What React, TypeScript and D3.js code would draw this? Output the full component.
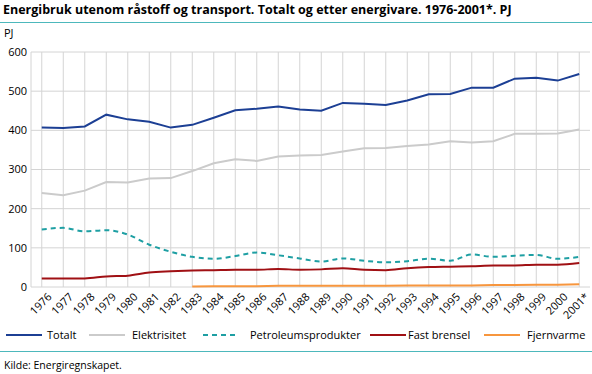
import * as d3 from 'd3';

const years = [
  '1976', '1977', '1978', '1979', '1980', '1981', '1982', '1983', '1984', '1985', '1986', '1987', '1988',
  '1989', '1990', '1991', '1992', '1993', '1994', '1995', '1996', '1997', '1998', '1999', '2000', '2001*',
];

const totalt = [407, 406, 410, 440, 428, 422, 407, 414, 432, 451, 455, 461, 453, 450, 470, 468, 465, 476, 492, 493, 509, 509, 532, 534, 527, 544];
const elektrisitet = [240, 234, 246, 268, 267, 277, 278, 296, 316, 326, 322, 333, 336, 337, 346, 354, 355, 360, 364, 372, 369, 372, 391, 391, 392, 402];
const petroleum = [147, 151, 142, 145, 134, 108, 90, 77, 72, 79, 88, 81, 73, 65, 73, 67, 63, 66, 72, 67, 83, 77, 80, 82, 72, 77];
const fastBrensel = [22, 22, 22, 27, 29, 37, 40, 42, 43, 44, 44, 46, 44, 45, 48, 44, 43, 48, 51, 52, 53, 55, 55, 57, 57, 61];
const fjernvarme: (number | null)[] = [null, null, null, null, null, null, null, 1, 2, 2, 2, 3, 3, 3, 3, 3, 3, 4, 4, 4, 4, 5, 5, 6, 6, 7];

const yTicks = [0, 100, 200, 300, 400, 500, 600];

const series = [
  { name: 'Totalt', values: totalt, color: '#1c3f94', dash: '', curve: d3.curveLinear },
  { name: 'Elektrisitet', values: elektrisitet, color: '#cbcbcb', dash: '', curve: d3.curveLinear },
  { name: 'Petroleumsprodukter', values: petroleum, color: '#1e9fa3', dash: '5,4', curve: d3.curveMonotoneX },
  { name: 'Fast brensel', values: fastBrensel, color: '#a01014', dash: '', curve: d3.curveMonotoneX },
  { name: 'Fjernvarme', values: fjernvarme, color: '#f7963e', dash: '', curve: d3.curveLinear },
];

// legend: linjestart og tekststart
const legendPos = [
  { x: 6, tx: 47 },
  { x: 89, tx: 132 },
  { x: 203, tx: 250 },
  { x: 370, tx: 408 },
  { x: 484, tx: 527 },
];

const W = 592;
const H = 374;
const font = "'Open Sans', sans-serif";

export default function App() {
  const margin = { left: 31, right: 2, top: 52, bottom: 87 };
  const x = d3.scaleBand().domain(years).range([margin.left, W - margin.right]);
  const y = d3.scaleLinear().domain([0, 600]).range([H - margin.bottom, margin.top]);
  const cx = (d: string) => x(d)! + x.bandwidth() / 2;

  return (
    <svg width={W} height={H} style={{ position: 'absolute', left: 0, top: 0, background: '#fff' }} fontFamily={font}>
      <text x={3} y={14} fontSize={12.5} fontWeight="bold" fill="#000">
        Energibruk utenom råstoff og transport. Totalt og etter energivare. 1976-2001*. PJ
      </text>
      <line x1={0} x2={W} y1={22.5} y2={22.5} stroke="#4db8bc" strokeWidth={1} />
      <text x={4} y={37} fontSize={11}>PJ</text>

      {/* rutenett */}
      {yTicks.map((t) => (
        <g key={t}>
          <line x1={margin.left} x2={W - margin.right} y1={y(t)} y2={y(t)} stroke="#d4d4d4" />
          <text x={27} y={y(t)} dy="0.35em" textAnchor="end" fontSize={11}>{t}</text>
        </g>
      ))}
      <line x1={margin.left} x2={margin.left} y1={y(600)} y2={y(0)} stroke="#d4d4d4" />
      {years.map((d) => (
        <g key={d}>
          <line x1={cx(d)} x2={cx(d)} y1={y(600)} y2={y(0)} stroke="#d4d4d4" />
          <text
            transform={`translate(${cx(d) + 5},${y(0) + 5}) rotate(-45)`}
            textAnchor="end"
            dy="0.72em"
            fontSize={11}
          >
            {d}
          </text>
        </g>
      ))}

      {series.map((s) => {
        const line = d3
          .line<number | null>()
          .defined((v) => v !== null)
          .x((_, i) => cx(years[i]))
          .y((v) => y(v as number))
          .curve(s.curve);
        return (
          <path key={s.name} d={line(s.values) || ''} fill="none" stroke={s.color} strokeWidth={2} strokeDasharray={s.dash} />
        );
      })}

      {series.map((s, i) => (
        <g key={s.name}>
          <line x1={legendPos[i].x} x2={legendPos[i].x + 36} y1={335} y2={335} stroke={s.color} strokeWidth={2} strokeDasharray={s.dash} />
          <text x={legendPos[i].tx} y={335} dy="0.35em" fontSize={11}>{s.name}</text>
        </g>
      ))}

      <line x1={0} x2={W} y1={351.5} y2={351.5} stroke="#4db8bc" strokeWidth={1} />
      <text x={4} y={369} fontSize={10.5}>Kilde: Energiregnskapet.</text>
    </svg>
  );
}
